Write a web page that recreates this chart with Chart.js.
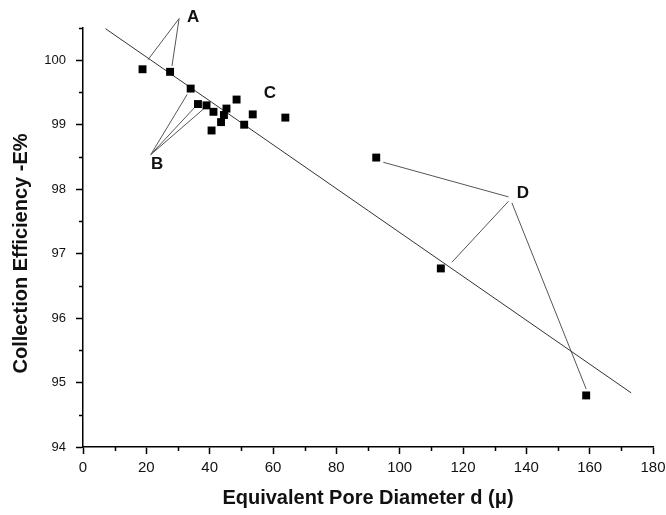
<!DOCTYPE html>
<html>
<head>
<meta charset="utf-8">
<script src="https://cdn.jsdelivr.net/npm/chart.js@4/dist/chart.umd.min.js"></script>
<style>
  html, body { margin: 0; padding: 0; background: #fff; }
  #wrap { width: 666px; height: 515px; }
</style>
</head>
<body>
<div id="wrap"><canvas id="chart" width="666" height="515"></canvas></div>
<script>
// measured samples: pore diameter (µ) vs collection efficiency (%)
const poreDiameter = [18.8, 27.5, 34.0, 36.3, 39.0, 41.2, 40.6, 43.6, 44.5, 45.3, 48.5, 50.9, 53.6, 63.9, 92.6, 113.0, 158.9];
const efficiency   = [99.86, 99.82, 99.56, 99.32, 99.30, 99.20, 98.91, 99.04, 99.15, 99.25, 99.39, 99.00, 99.16, 99.11, 98.49, 96.77, 94.80];

// straight-line fit, two ends
const fitX = [7.1, 173.1];
const fitY = [100.49, 94.84];

// group letters and where they sit
const groupNames = ['A', 'B', 'C', 'D'];
const groupX = [34.8, 23.4, 59.0, 138.9];
const groupY = [100.66, 98.38, 99.49, 97.93];

// leader lines: [x0, y0, x1, y1]
const leaders = [
  [30.35, 100.647, 20.55, 100.01],
  [30.35, 100.647, 28.1, 99.91],
  [21.4, 98.536, 32.9, 99.47],
  [21.4, 98.536, 35.3, 99.27],
  [21.4, 98.536, 38.2, 99.25],
  [134.37, 97.88, 94.85, 98.417],
  [134.37, 97.812, 116.47, 96.865],
  [135.44, 97.787, 158.9, 94.90],
];

const xTicks = [0, 20, 40, 60, 80, 100, 120, 140, 160, 180];
const yTicks = [94, 95, 96, 97, 98, 99, 100];
const xMinorStep = 10;
const yMinorStep = 0.5;

const xTitle = 'Equivalent Pore Diameter d (μ)';
const yTitle = 'Collection Efficiency -E%';

const FONT = 'Arial, "Liberation Sans", sans-serif';

const minorTicks = {
  id: 'minorTicks',
  afterDraw(chart) {
    const { ctx, scales: { x, y } } = chart;
    ctx.save();
    ctx.strokeStyle = '#000';
    ctx.lineWidth = 1.5;
    ctx.beginPath();
    for (let v = x.min; v <= x.max + 1e-9; v += xMinorStep) {
      if (xTicks.includes(v)) continue;
      const px = Math.round(x.getPixelForValue(v)) + 0.5;
      ctx.moveTo(px, x.top);
      ctx.lineTo(px, x.top + 4);
    }
    for (let v = y.min; v <= y.max + 1e-9; v += yMinorStep) {
      if (yTicks.includes(v)) continue;
      const py = Math.round(y.getPixelForValue(v)) + 0.5;
      ctx.moveTo(y.right, py);
      ctx.lineTo(y.right - 4, py);
    }
    ctx.stroke();
    ctx.restore();
  }
};

// axis titles and the A-D group letters
const annotations = {
  id: 'annotations',
  afterDraw(chart) {
    const { ctx, scales: { x, y } } = chart;
    ctx.save();
    ctx.fillStyle = '#111';
    ctx.textAlign = 'center';
    ctx.textBaseline = 'middle';

    ctx.font = 'bold 17px ' + FONT;
    groupNames.forEach((name, i) => {
      ctx.fillText(name, x.getPixelForValue(groupX[i]), y.getPixelForValue(groupY[i]));
    });

    ctx.font = 'bold 20px ' + FONT;
    ctx.fillText(xTitle, (x.left + x.right) / 2, 498);

    ctx.translate(21, (y.top + y.bottom) / 2 + 16);
    ctx.rotate(-Math.PI / 2);
    ctx.fillText(yTitle, 0, 0);
    ctx.restore();
  }
};

const datasets = [
  {
    label: 'samples',
    data: poreDiameter.map((d, i) => ({ x: d, y: efficiency[i] })),
    pointStyle: 'rect',
    pointRadius: 5.6,
    pointBorderWidth: 0,
    backgroundColor: '#000',
    showLine: false,
    order: 0,
  },
  {
    label: 'fit',
    data: fitX.map((d, i) => ({ x: d, y: fitY[i] })),
    showLine: true,
    pointRadius: 0,
    borderColor: '#333',
    borderWidth: 1,
    order: 1,
  },
];

leaders.forEach(([x0, y0, x1, y1]) => {
  datasets.push({
    data: [{ x: x0, y: y0 }, { x: x1, y: y1 }],
    showLine: true,
    pointRadius: 0,
    borderColor: '#555',
    borderWidth: 1,
    clip: false,
    order: 2,
  });
});

new Chart(document.getElementById('chart'), {
  type: 'scatter',
  data: { datasets },
  options: {
    responsive: false,
    animation: false,
    layout: { padding: { top: 28, right: 13, left: 0, bottom: 0 } },
    plugins: {
      legend: { display: false },
      tooltip: { enabled: false },
    },
    scales: {
      x: {
        type: 'linear',
        min: 0,
        max: 180,
        afterFit: (s) => { s.height = 68; s.paddingLeft = 0; s.paddingRight = 0; },
        afterBuildTicks: (s) => { s.ticks = xTicks.map(v => ({ value: v })); },
        ticks: { stepSize: 20, padding: 5, color: '#111', font: { family: FONT, size: 15 } },
        grid: { drawOnChartArea: false, tickLength: 7, tickColor: '#000', tickWidth: 1.5 },
        border: { color: '#000', width: 1.5 },
      },
      y: {
        type: 'linear',
        min: 94,
        max: 100.5,
        afterFit: (s) => { s.width = 83; s.paddingTop = 0; s.paddingBottom = 0; },
        afterBuildTicks: (s) => { s.ticks = yTicks.map(v => ({ value: v })); },
        ticks: { stepSize: 1, padding: 10, color: '#111', font: { family: FONT, size: 13 } },
        grid: { drawOnChartArea: false, tickLength: 7, tickColor: '#000', tickWidth: 1.5 },
        border: { color: '#000', width: 1.5 },
      },
    },
  },
  plugins: [minorTicks, annotations],
});
</script>
</body>
</html>
